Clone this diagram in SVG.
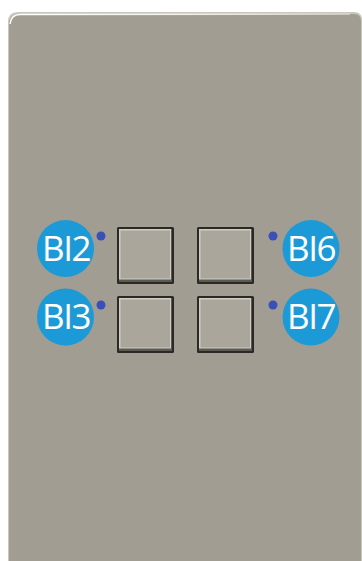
<svg xmlns="http://www.w3.org/2000/svg" width="362" height="561" viewBox="0 0 362 561">
<defs>
<style>
.btn-outer{fill:#2a2926}
.btn-face{fill:#aaa69b}
.btn-hi{fill:#cfccc3}
.btn-sh{fill:#5b5953}
.badge{fill:#1c9ad7}
.dot{fill:#3b4fb8}
.lbl{font-family:"Open Sans","Liberation Sans",sans-serif;font-size:35px;fill:#ffffff;text-anchor:middle;letter-spacing:-1.5px}
</style>
<linearGradient id="topHi" x1="0" y1="0" x2="1" y2="0">
<stop offset="0" stop-color="#ffffff"/>
<stop offset="0.5" stop-color="#f2f1ec"/>
<stop offset="1" stop-color="#d8d6cf"/>
</linearGradient>
</defs>
<rect width="362" height="561" fill="#ffffff"/>
<g id="panel">
<path d="M8,22 Q8,12 18,12 L354,12 Q362,12 362,20 L362,561 L8,561 Z" fill="#c9c6bc"/>
<path d="M9,24 Q9,14 19,14 L354,14 Q361,14 361,21 L361,561 L9,561 Z" fill="#a19d92"/>
<path d="M10,24 Q11,14.5 20,14.5 L350,14" fill="none" stroke="url(#topHi)" stroke-width="1.5"/>
</g>
<g id="btn1">
<rect class="btn-outer" x="117" y="227" width="57" height="57" rx="1.5"/>
<rect class="btn-sh" x="119" y="229" width="53" height="53"/>
<rect class="btn-hi" x="119" y="229" width="52" height="50.5"/>
<rect class="btn-face" x="120.5" y="230.5" width="49.5" height="48"/>
</g>
<g id="btn2">
<rect class="btn-outer" x="197" y="227" width="57" height="57" rx="1.5"/>
<rect class="btn-sh" x="199" y="229" width="53" height="53"/>
<rect class="btn-hi" x="199" y="229" width="52" height="50.5"/>
<rect class="btn-face" x="200.5" y="230.5" width="49.5" height="48"/>
</g>
<g id="btn3">
<rect class="btn-outer" x="117" y="296" width="57" height="57" rx="1.5"/>
<rect class="btn-sh" x="119" y="298" width="53" height="53"/>
<rect class="btn-hi" x="119" y="298" width="52" height="50.5"/>
<rect class="btn-face" x="120.5" y="299.5" width="49.5" height="48"/>
</g>
<g id="btn4">
<rect class="btn-outer" x="197" y="296" width="57" height="57" rx="1.5"/>
<rect class="btn-sh" x="199" y="298" width="53" height="53"/>
<rect class="btn-hi" x="199" y="298" width="52" height="50.5"/>
<rect class="btn-face" x="200.5" y="299.5" width="49.5" height="48"/>
</g>
<g id="BI2">
<circle class="badge" cx="65.5" cy="248.5" r="28.5"/>
<circle class="dot" cx="101" cy="236" r="4.5"/>
<text class="lbl" x="66" y="260.5">BI2</text>
</g>
<g id="BI3">
<circle class="badge" cx="65.5" cy="317" r="28.5"/>
<circle class="dot" cx="101" cy="305" r="4.5"/>
<text class="lbl" x="66" y="329">BI3</text>
</g>
<g id="BI6">
<circle class="badge" cx="311" cy="248.5" r="28.5"/>
<circle class="dot" cx="273" cy="236" r="4.5"/>
<text class="lbl" x="311" y="260.5">BI6</text>
</g>
<g id="BI7">
<circle class="badge" cx="311" cy="317" r="28.5"/>
<circle class="dot" cx="273" cy="305" r="4.5"/>
<text class="lbl" x="311" y="329">BI7</text>
</g>
<g id="connectors"/>
</svg>
